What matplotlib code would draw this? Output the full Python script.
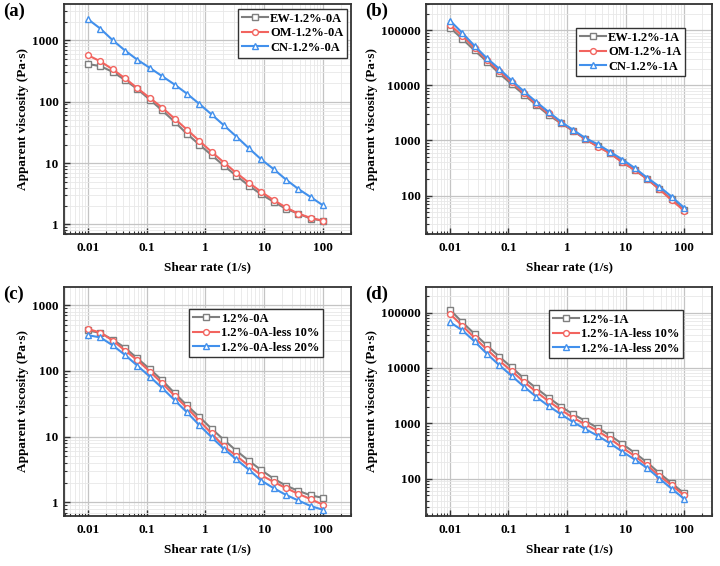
import numpy as np
import matplotlib
matplotlib.use("Agg")
import matplotlib.pyplot as plt
from matplotlib.ticker import LogLocator, FixedLocator, NullFormatter

plt.rcParams['font.family'] = ['Liberation Serif', 'DejaVu Serif']
plt.rcParams['font.weight'] = 'bold'

shear_rate = [0.01, 0.0162, 0.0264, 0.0428, 0.0695, 0.113, 0.183, 0.298, 0.483, 0.785,
              1.27, 2.07, 3.36, 5.46, 8.86, 14.4, 23.4, 37.9, 61.6, 100]

# (a) 0A samples
ew_0a = [410, 380, 305, 225, 160, 108, 72, 47, 30, 20, 13.5, 9, 6.2, 4.3, 3.1, 2.35, 1.8, 1.5, 1.25, 1.15]
om_0a = [570, 455, 335, 240, 165, 115, 80, 53, 35, 23, 15.2, 10.2, 6.9, 4.8, 3.4, 2.5, 1.9, 1.5, 1.28, 1.15]
cn_0a = [2200, 1550, 1000, 680, 480, 355, 260, 190, 135, 92, 62, 41, 27, 17.5, 11.5, 8, 5.4, 3.8, 2.8, 2.05]

# (b) 1A samples
ew_1a = [112000, 70000, 43000, 27000, 16500, 10500, 6800, 4400, 2900, 2050,
         1500, 1050, 780, 590, 400, 290, 200, 130, 85, 55]
om_1a = [125000, 80000, 48000, 29000, 18000, 11500, 7200, 4600, 3100, 2100,
         1500, 1050, 770, 580, 400, 290, 200, 130, 82, 53]
cn_1a = [150000, 90000, 52000, 31000, 20000, 12300, 7800, 5000, 3300, 2200,
         1550, 1100, 850, 620, 450, 315, 210, 145, 95, 60]

# (c) 0A with less water
base_0a = [415, 380, 300, 225, 155, 107, 72, 46, 30, 20, 13.2, 8.9, 6.1, 4.3, 3.1, 2.3, 1.8, 1.5, 1.28, 1.17]
less10_0a = [435, 385, 290, 205, 145, 98, 65, 42, 27.5, 17.5, 11.2, 7.1, 5.1, 3.6, 2.6, 2.05, 1.65, 1.35, 1.12, 0.92]
less20_0a = [350, 325, 245, 175, 120, 82, 55, 36, 23.5, 15, 9.8, 6.5, 4.5, 3.15, 2.15, 1.65, 1.3, 1.07, 0.88, 0.77]

# (d) 1A with less water
base_1a = [113000, 67000, 41000, 25500, 16000, 10200, 6500, 4300, 2900, 2000,
           1450, 1100, 820, 600, 420, 290, 195, 125, 82, 54]
less10_1a = [95000, 58000, 35000, 21500, 13500, 8800, 5600, 3700, 2500, 1750,
             1250, 950, 720, 520, 360, 255, 172, 112, 75, 50]
less20_1a = [67000, 48000, 30000, 18000, 11200, 7200, 4600, 3000, 2050, 1450,
             1050, 780, 590, 430, 305, 220, 155, 100, 65, 43]

colors = ['#7f7f7f', '#f2645f', '#4290ec']
markers = ['s', 'o', '^']

panels = [
    ('(a)', [ew_0a, om_0a, cn_0a], ['EW-1.2%-0A', 'OM-1.2%-0A', 'CN-1.2%-0A'],
     (0.7, 3900), [1, 10, 100, 1000]),
    ('(b)', [ew_1a, om_1a, cn_1a], ['EW-1.2%-1A', 'OM-1.2%-1A', 'CN-1.2%-1A'],
     (20, 300000), [100, 1000, 10000, 100000]),
    ('(c)', [base_0a, less10_0a, less20_0a], ['1.2%-0A', '1.2%-0A-less 10%', '1.2%-0A-less 20%'],
     (0.62, 1900), [1, 10, 100, 1000]),
    ('(d)', [base_1a, less10_1a, less20_1a], ['1.2%-1A', '1.2%-1A-less 10%', '1.2%-1A-less 20%'],
     (21, 290000), [100, 1000, 10000, 100000]),
]

# axes boxes in pixels: left, top, right, bottom
boxes = [(64, 4, 351, 234), (426, 4, 712, 234), (64, 287, 351, 516), (426, 287, 712, 516)]
legend_anchor = [(0.986, 0.978), (0.906, 0.896), (0.902, 0.904), (0.899, 0.90)]

W, H = 720, 566
fig = plt.figure(figsize=(W / 100, H / 100), dpi=100)

for i, (tag, series, labels, ylim, yticks) in enumerate(panels):
    l, t, r, b = boxes[i]
    ax = fig.add_axes([l / W, 1 - b / H, (r - l) / W, (b - t) / H])
    ax.set_xscale('log')
    ax.set_yscale('log')
    for y, lab, c, m in zip(series, labels, colors, markers):
        ax.plot(shear_rate, y, color=c, marker=m, markersize=4.2, markerfacecolor='white',
                markeredgecolor=c, markeredgewidth=1.0, linewidth=1.5, label=lab)
    ax.set_xlim(0.0039, 300)
    ax.set_ylim(*ylim)
    ax.xaxis.set_major_locator(FixedLocator([0.01, 0.1, 1, 10, 100]))
    ax.set_xticklabels(['0.01', '0.1', '1', '10', '100'])
    ax.yaxis.set_major_locator(FixedLocator(yticks))
    ax.set_yticklabels([str(v) for v in yticks])
    ax.xaxis.set_minor_locator(LogLocator(base=10, subs=np.arange(2, 10), numticks=20))
    ax.yaxis.set_minor_locator(LogLocator(base=10, subs=np.arange(2, 10), numticks=20))
    ax.xaxis.set_minor_formatter(NullFormatter())
    ax.yaxis.set_minor_formatter(NullFormatter())
    ax.grid(which='major', color='#c4c4c4', linewidth=0.9)
    ax.grid(which='minor', color='#e8e8e8', linewidth=0.6)
    ax.set_axisbelow(True)
    ax.tick_params(which='major', direction='in', length=4, width=1.0, labelsize=9.5,
                   colors='#333333', labelcolor='black')
    ax.tick_params(axis='x', which='major', pad=6)
    ax.tick_params(axis='y', which='major', pad=4)
    ax.tick_params(which='minor', direction='in', length=2.5, width=0.8, colors='#333333')
    for s in ax.spines.values():
        s.set_color('#333333')
        s.set_linewidth(1.3)
    ax.set_xlabel('Shear rate (1/s)', fontsize=9.5, fontweight='bold', labelpad=5)
    ax.set_ylabel('Apparent viscosity (Pa·s)', fontsize=9.5, fontweight='bold', labelpad=2)
    leg = ax.legend(loc='upper right', bbox_to_anchor=legend_anchor[i], borderaxespad=0,
                    fontsize=9, fancybox=False, framealpha=1, edgecolor='#333333',
                    handlelength=2.1, borderpad=0.3, labelspacing=0.2, handletextpad=0.15)
    leg.get_frame().set_linewidth(1.0)
    fig.text((l - 61) / W, 1 - (t - 1) / H, tag, fontsize=13.5, fontweight='bold', va='top')

fig.savefig('out.png', dpi=100)
